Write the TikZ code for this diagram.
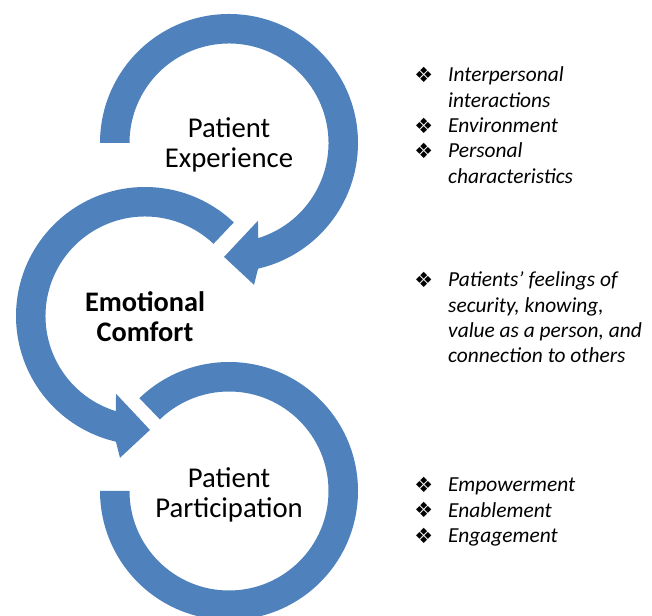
\documentclass[tikz,border=0pt]{standalone}
\usepackage{fontspec}
\setmainfont{Carlito}
\newfontfamily\dejavu{DejaVu Sans}
\definecolor{ringblue}{HTML}{4F81BD}
\tikzset{
  ring/.style={fill=ringblue, draw=none},
  ringlabel/.style={align=center, inner sep=0pt, text=black, font=\fontsize{28.7}{30}\selectfont},
  listtext/.style={anchor=base west, inner sep=0pt, text=black, font=\fontsize{21.4}{25.3}\selectfont\itshape},
}
\newcommand{\bul}{\llap{\raisebox{-0.5pt}{\dejavu\upshape\fontsize{21}{21}\selectfont ❖}\hspace{15pt}}}
\begin{document}
\begin{tikzpicture}[x=1pt,y=1pt]
\useasboundingbox (0,0) rectangle (652,615);
\clip (0,0) rectangle (652,615);
% centres
\coordinate (c1) at (229,472);
\coordinate (c2) at (145,299);
\coordinate (c3) at (229,124);
% top ring: Patient Experience
\begin{scope}[shift={(c1)}]
\fill[ring] (180:129) arc[start angle=180, end angle=-77, radius=129]
  -- (-80:144) -- (-92.5:114) -- (-69.6:83) -- (-72.9:99.5)
  arc[start angle=-72.9, end angle=180, radius=99.5] -- cycle;
\end{scope}
% middle ring: Emotional Comfort
\begin{scope}[shift={(c2)}]
\fill[ring] (46.5:129) arc[start angle=46.5, end angle=257, radius=129]
  -- (260:144) -- (272.5:114) -- (249.6:83) -- (252.9:99.5)
  arc[start angle=252.9, end angle=46.5, radius=99.5] -- cycle;
\end{scope}
% bottom ring: Patient Participation
\begin{scope}[shift={(c3)}]
\fill[ring] (134:129) arc[start angle=134, end angle=-180, radius=129]
  -- (-180:99.5) arc[start angle=-180, end angle=134, radius=99.5] -- cycle;
\end{scope}
% ring labels
\node[ringlabel] (exp) at (229,470.5) {Patient\\Experience};
\node[ringlabel, font=\fontsize{28.3}{30}\selectfont\bfseries] (emo) at (145,298) {Emotional\\Comfort};
\node[ringlabel] (par) at (229,120) {Patient\\Participation};
% lists
\node[listtext] (l1) at (448,533) {\begin{tabular}[t]{@{}l@{}}
\bul Interpersonal\\ interactions\\ \bul Environment\\ \bul Personal\\ characteristics\end{tabular}};
\node[listtext] (l2) at (448,328) {\begin{tabular}[t]{@{}l@{}}
\bul Patients’ feelings of\\ security, knowing,\\ value as a person, and\\ connection to others\end{tabular}};
\node[listtext] (l3) at (448,123) {\begin{tabular}[t]{@{}l@{}}
\bul Empowerment\\ \bul Enablement\\ \bul Engagement\end{tabular}};
\end{tikzpicture}
\end{document}
